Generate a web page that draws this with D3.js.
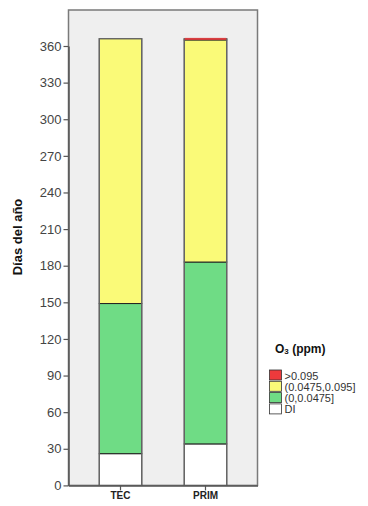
<!DOCTYPE html>
<html>
<head>
<meta charset="utf-8">
<script src="https://cdn.jsdelivr.net/npm/d3@7"></script>
<style>
  html, body { margin: 0; padding: 0; background: #ffffff; }
  svg { display: block; font-family: Arial, "Liberation Sans", sans-serif; }
</style>
</head>
<body>
<svg id="chart" width="368" height="506"></svg>
<script>
// Stations on the x axis
const categories = ["TEC", "PRIM"];
// Days per O3 class, stacked from the bottom up
const seriesKeys = ["DI", "low", "mid", "high"];
const diDays   = [26, 34];
const lowDays  = [123, 149];
const midDays  = [217, 182];
const highDays = [0, 1];
// Legend entries (top to bottom) and y tick labels
const legendLabels = [">0.095", "(0.0475,0.095]", "(0,0.0475]", "DI"];
const legendKeys = ["high", "mid", "low", "DI"];
const yTicks = [0, 30, 60, 90, 120, 150, 180, 210, 240, 270, 300, 330, 360];

const colors = { DI: "#ffffff", low: "#6fdc85", mid: "#fafa78", high: "#ee3a3c" };

const rows = categories.map((c, i) => ({
  cat: c, DI: diDays[i], low: lowDays[i], mid: midDays[i], high: highDays[i]
}));

const svg = d3.select("#chart");
const frame = { left: 68.5, right: 257.5, top: 10, bottom: 485.4 };

const x = d3.scaleBand()
  .domain(categories)
  .range([frame.left, frame.right])
  .paddingInner(0.5)
  .paddingOuter(0.362);

const y = d3.scaleLinear()
  .domain([0, 360])
  .range([frame.bottom, frame.bottom - 439.4]);

// Plot background panel
svg.append("rect")
  .attr("x", frame.left).attr("y", frame.top)
  .attr("width", frame.right - frame.left)
  .attr("height", frame.bottom - frame.top)
  .attr("fill", "#efefef")
  .attr("stroke", "#7a7a7a")
  .attr("stroke-width", 1.5);

// Stacked bars
const stacked = d3.stack().keys(seriesKeys)(rows);
const layers = svg.append("g").selectAll("g")
  .data(stacked)
  .join("g")
  .attr("fill", d => colors[d.key]);

layers.selectAll("rect")
  .data(d => d.filter(s => s[1] - s[0] > 0))
  .join("rect")
  .attr("x", d => x(d.data.cat))
  .attr("width", x.bandwidth())
  .attr("y", d => y(d[1]))
  .attr("height", d => y(d[0]) - y(d[1]))
  .attr("stroke", "#222")
  .attr("stroke-width", 1);

// Outer outline of each bar
svg.append("g").selectAll("rect")
  .data(rows)
  .join("rect")
  .attr("x", d => x(d.cat))
  .attr("width", x.bandwidth())
  .attr("y", d => y(d.DI + d.low + d.mid + d.high))
  .attr("height", d => y(0) - y(d.DI + d.low + d.mid + d.high))
  .attr("fill", "none")
  .attr("stroke", "#6a6a6a")
  .attr("stroke-width", 1.2);

// Thin top segments redrawn over the outline so their colour stays visible
const topLayer = stacked.find(s => s.key === "high");
svg.append("g").selectAll("rect")
  .data(topLayer.filter(s => s[1] - s[0] > 0))
  .join("rect")
  .attr("x", d => x(d.data.cat) + 0.5)
  .attr("width", x.bandwidth() - 1)
  .attr("y", d => y(d[1]) - 0.8)
  .attr("height", d => y(d[0]) - y(d[1]) + 0.8)
  .attr("fill", colors.high)
  .attr("opacity", 0.85);

// Y axis
const yAxis = svg.append("g")
  .attr("transform", `translate(${frame.left},0)`)
  .call(d3.axisLeft(y).tickValues(yTicks).tickSize(5).tickPadding(2).tickSizeOuter(0));
yAxis.select(".domain").attr("stroke", "#555").attr("stroke-width", 1.5);
yAxis.selectAll(".tick line").attr("stroke", "#555").attr("stroke-width", 1.2);
yAxis.selectAll(".tick text")
  .attr("fill", "#444")
  .style("font-size", "13px")
  .style("font-family", "Arial, 'Liberation Sans', sans-serif");

// X axis
const xAxis = svg.append("g")
  .attr("transform", `translate(0,${frame.bottom})`)
  .call(d3.axisBottom(x).tickSize(5).tickPadding(2).tickSizeOuter(0));
xAxis.select(".domain").attr("stroke", "#555").attr("stroke-width", 1.5);
xAxis.selectAll(".tick line").attr("stroke", "#555").attr("stroke-width", 1.2);
xAxis.selectAll(".tick text")
  .attr("fill", "#222")
  .style("font-size", "10px")
  .style("font-weight", "bold")
  .style("font-family", "Arial, 'Liberation Sans', sans-serif");

// Y axis title
svg.append("text")
  .attr("transform", `translate(22,237) rotate(-90)`)
  .attr("text-anchor", "middle")
  .style("font-size", "13px")
  .style("font-weight", "bold")
  .attr("fill", "#111")
  .text("Días del año");

// Legend
const legend = svg.append("g");
const title = legend.append("text")
  .attr("x", 275).attr("y", 353)
  .style("font-size", "12px")
  .style("font-weight", "bold")
  .attr("fill", "#111");
title.append("tspan").text("O");
title.append("tspan").text("3").style("font-size", "8px").attr("dy", 1);
title.append("tspan").text(" (ppm)").attr("dy", -1);

const items = legend.selectAll("g.item")
  .data(legendKeys)
  .join("g")
  .attr("class", "item")
  .attr("transform", (d, i) => `translate(269.5,${370 + i * 11.3})`);
items.append("rect")
  .attr("width", 12).attr("height", 10)
  .attr("fill", d => colors[d])
  .attr("stroke", "#333")
  .attr("stroke-width", 0.8);
items.append("text")
  .attr("x", 15).attr("y", 9.5)
  .style("font-size", "11px")
  .attr("fill", "#333")
  .text((d, i) => legendLabels[i]);
</script>
</body>
</html>
